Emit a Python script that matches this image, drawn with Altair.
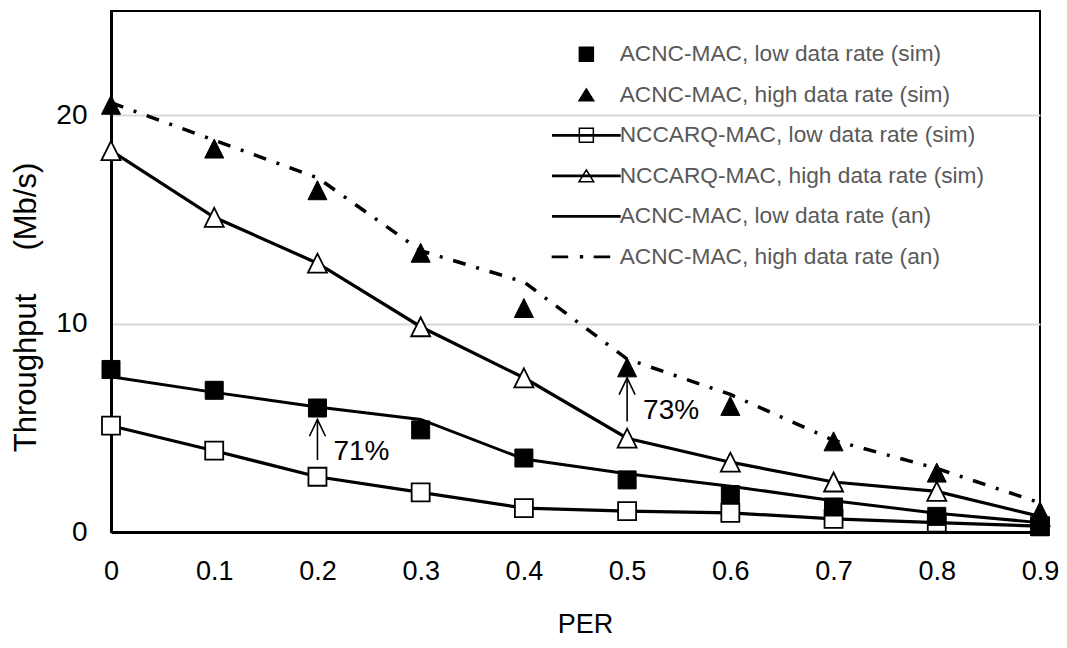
import altair as alt
import pandas as pd

# ---------------- data ----------------
per = [0.0, 0.1, 0.2, 0.3, 0.4, 0.5, 0.6, 0.7, 0.8, 0.9]
acnc_low_sim = [7.8, 6.8, 5.95, 4.9, 3.55, 2.5, 1.8, 1.2, 0.75, 0.25]
acnc_high_sim = [20.5, 18.4, 16.4, 13.4, 10.75, 7.9, 6.05, 4.35, 2.85, 1.0]
nccarq_low_sim = [5.1, 3.9, 2.65, 1.9, 1.15, 1.0, 0.92, 0.63, 0.45, 0.28]
nccarq_high_sim = [18.3, 15.1, 12.9, 9.85, 7.4, 4.5, 3.35, 2.4, 1.95, 0.75]
acnc_low_an = [7.45, 6.7, 6.0, 5.4, 3.5, 2.8, 2.2, 1.5, 0.9, 0.45]
acnc_high_an = [20.6, 18.8, 17.0, 13.5, 12.0, 8.3, 6.6, 4.4, 3.05, 1.4]

series_names = [
    "ACNC-MAC, low data rate (sim)",
    "ACNC-MAC, high data rate (sim)",
    "NCCARQ-MAC, low data rate (sim)",
    "NCCARQ-MAC, high data rate (sim)",
    "ACNC-MAC, low data rate (an)",
    "ACNC-MAC, high data rate (an)",
]
series_values = [acnc_low_sim, acnc_high_sim, nccarq_low_sim, nccarq_high_sim,
                 acnc_low_an, acnc_high_an]

x_ticks = [0.0, 0.1, 0.2, 0.3, 0.4, 0.5, 0.6, 0.7, 0.8, 0.9]
y_ticks = [0, 10, 20]

ann_x = [0.2, 0.5]
ann_y0 = [3.45, 5.3]
ann_y1 = [5.4, 7.4]
ann_ty = [3.85, 5.8]
ann_text = ["71%", "73%"]

# ---------------- tables ----------------
rows = []
for name, vals in zip(series_names, series_values):
    for p, v in zip(per, vals):
        rows.append({"per": p, "thr": v, "series": name})
df = pd.DataFrame(rows)
ann = pd.DataFrame({"x": ann_x, "y0": ann_y0, "y1": ann_y1, "ty": ann_ty, "label": ann_text})

FONT = "Liberation Sans"

# legend symbol paths (unit = sqrt(size)/2 px)
LSQ = "M-1,-1H1V1H-1Z"
LTRI = "M0,-0.85L1.05,0.85L-1.05,0.85Z"
LLINE = "M-4.8,-0.1H4.8V0.1H-4.8Z"
LDD = "M-4.85,-0.1H-2.7V0.1H-4.85Z M-0.82,-0.14H-0.56V0.14H-0.82Z M1.15,-0.1H3.3V0.1H1.15Z"
legend_paths = [LSQ, LTRI, LLINE + " " + LSQ, LLINE + " " + LTRI, LLINE, LDD]
legend_fills = ["black", "black", "white", "white", "black", "black"]

# plot marker paths
MSQ = "M-1,-1H1V1H-1Z"
MTRI = "M0,-1L1,1L-1,1Z"

x_enc = alt.X("per:Q", scale=alt.Scale(domain=[0, 0.9], nice=False, zero=False),
              axis=alt.Axis(values=x_ticks, format=".1~f", title="PER", grid=False,
                            ticks=False, tickSize=0, labelFlush=False, labelOverlap=False,
                            labelFontSize=27, labelPadding=26, titleFontSize=27,
                            titlePadding=27, titleX=474))
y_enc = alt.Y("thr:Q", scale=alt.Scale(domain=[0, 25], nice=False),
              axis=alt.Axis(values=y_ticks,
                            title="Throughput\u00a0\u00a0\u00a0\u00a0\u00a0(Mb/s)",
                            grid=True, gridColor="#d9d9d9", gridWidth=2,
                            ticks=False, tickSize=0, labelFontSize=28, labelPadding=24,
                            titleFontSize=31, titlePadding=13, titleY=296))

base = alt.Chart(df)


def sel(name):
    return base.transform_filter(alt.datum.series == name)


line_nl = sel(series_names[2]).mark_line(color="black", strokeWidth=3.2).encode(x=x_enc, y=y_enc)
line_nh = sel(series_names[3]).mark_line(color="black", strokeWidth=3.2).encode(x=x_enc, y=y_enc)
line_al = sel(series_names[4]).mark_line(color="black", strokeWidth=3).encode(x=x_enc, y=y_enc)
line_ah = sel(series_names[5]).mark_line(color="black", strokeWidth=3.5,
                                         strokeDash=[13, 11, 3, 11]).encode(x=x_enc, y=y_enc)

pt_nl = sel(series_names[2]).mark_point(shape=MSQ, size=324, filled=True, fill="white",
                                        stroke="black", strokeWidth=1.8, opacity=1).encode(x=x_enc, y=y_enc)
pt_nh = sel(series_names[3]).mark_point(shape=MTRI, size=361, filled=True, fill="white",
                                        stroke="black", strokeWidth=1.8, opacity=1).encode(x=x_enc, y=y_enc)
pt_al = sel(series_names[0]).mark_point(shape=MSQ, size=324, filled=True, fill="black",
                                        stroke="black", strokeWidth=1, opacity=1).encode(x=x_enc, y=y_enc)
pt_ah = sel(series_names[1]).mark_point(shape=MTRI, size=361, filled=True, fill="black",
                                        stroke="black", strokeWidth=1, opacity=1).encode(x=x_enc, y=y_enc)

legend_layer = base.mark_point(filled=True, opacity=0).encode(
    x=x_enc, y=y_enc,
    shape=alt.Shape("series:N", scale=alt.Scale(domain=series_names, range=legend_paths),
                    legend=alt.Legend(title=None, orient="none", legendX=464, legendY=32,
                                      symbolSize=196, symbolStrokeWidth=1.5,
                                      symbolStrokeColor="black", symbolOpacity=1,
                                      symbolFillColor=alt.ExprRef(expr="scale('fill', datum.value)"),
                                      labelFont=FONT, labelFontSize=22.7, labelColor="#595959",
                                      labelLimit=600, labelOffset=22, rowPadding=16.5)),
    fill=alt.Fill("series:N", scale=alt.Scale(domain=series_names, range=legend_fills), legend=None),
)

ann_base = alt.Chart(ann)
arrow_shaft = ann_base.mark_rule(color="black", strokeWidth=1.6).encode(
    x=alt.X("x:Q"), y=alt.Y("y0:Q"), y2="y1:Q")
arrow_head = ann_base.mark_point(shape="M-1,2.1L0,0L1,2.1", size=256, filled=False,
                                 stroke="black", strokeWidth=1.6, opacity=1).encode(
    x=alt.X("x:Q"), y=alt.Y("y1:Q"))
ann_label = ann_base.mark_text(align="left", baseline="middle", dx=16, font=FONT,
                               fontSize=28, color="black").encode(
    x=alt.X("x:Q"), y=alt.Y("ty:Q"), text="label:N")

chart = alt.layer(
    line_nl, line_nh, line_al, line_ah,
    pt_nl, pt_nh, pt_al, pt_ah,
    legend_layer,
    arrow_shaft, arrow_head, ann_label,
).properties(
    width=929, height=521,
    autosize=alt.AutoSizeParams(type="none"),
    padding={"left": 103, "top": 3, "right": 19, "bottom": 108},
).configure_view(
    stroke="black", strokeWidth=2
).configure_axis(
    labelFont=FONT, titleFont=FONT, labelColor="#000000", titleColor="#000000",
    titleFontWeight="normal", domainColor="black", domainWidth=3
)

chart.save("out.html", embed_options={"renderer": "svg", "actions": False})
